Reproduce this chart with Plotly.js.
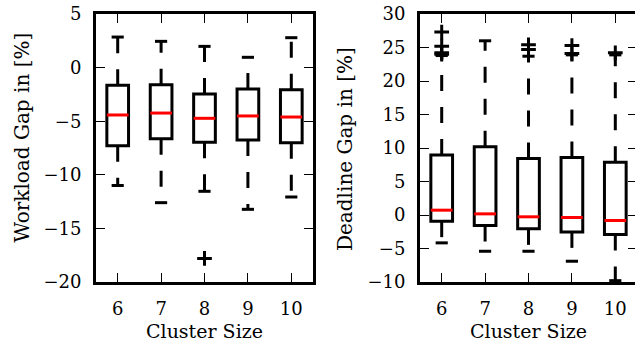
<!DOCTYPE html>
<html><head><meta charset="utf-8">
<script src="https://cdn.plot.ly/plotly-3.0.1.min.js"></script>
<style>html,body{margin:0;padding:0;overflow:hidden;background:#fff}</style>
</head><body><div id="chart"></div>
<script>
// ---- data ----
const clusters = [6, 7, 8, 9, 10];

// Workload gap [%]
const wlQ1   = [-7.28, -6.63, -6.97, -6.75, -7.00];
const wlMed  = [-4.42, -4.24, -4.73, -4.51, -4.61];
const wlQ3   = [-1.65, -1.59, -2.46, -2.00, -2.06];
const wlLow  = [-11.0, -12.6, -11.54, -13.22, -12.07];
const wlHigh = [2.85, 2.45, 1.98, 0.96, 2.79];
const wlOutX = [8];
const wlOutY = [-17.8];
const wlTicks = [-20, -15, -10, -5, 0, 5];

// Deadline gap [%]
const dlQ1   = [-0.92, -1.57, -2.07, -2.52, -2.92];
const dlMed  = [0.72, 0.17, -0.27, -0.37, -0.82];
const dlQ3   = [8.95, 10.2, 8.45, 8.60, 7.86];
const dlLow  = [-4.16, -5.41, -5.41, -6.90, -9.80];
const dlHigh = [23.8, 26.0, 23.7, 23.9, 23.9];
const dlOutX = [6, 6, 6, 6, 8, 8, 9, 9, 10];
const dlOutY = [27.3, 25.2, 24.2, 24.0, 25.4, 24.7, 25.3, 24.1, 24.2];
const dlTicks = [-10, -5, 0, 5, 10, 15, 20, 25, 30];

// ---- build ----
const FONT = "'DejaVu Serif', 'Liberation Serif', serif";
function fmt(v) { return v < 0 ? '\u2212' + Math.abs(v) : String(v); }

function boxTraces(xa, ya, q1, med, q3, low, high, outX, outY) {
  const hw = 0.25, cw = 0.14;
  const bx = [], by = [], mx = [], my = [], wx = [], wy = [], cx = [], cy = [];
  clusters.forEach((c, i) => {
    bx.push(c - hw, c + hw, c + hw, c - hw, c - hw, c + hw, null);
    by.push(q1[i], q1[i], q3[i], q3[i], q1[i], q1[i], null);
    mx.push(c - hw, c + hw, null); my.push(med[i], med[i], null);
    wx.push(c, c, null, c, c, null); wy.push(q3[i], high[i], null, q1[i], low[i], null);
    cx.push(c - cw, c + cw, null, c - cw, c + cw, null);
    cy.push(high[i], high[i], null, low[i], low[i], null);
  });
  const base = {xaxis: xa, yaxis: ya, type: 'scatter', hoverinfo: 'skip', connectgaps: false};
  return [
    Object.assign({}, base, {x: wx, y: wy, mode: 'lines', line: {color: '#000', width: 3, dash: '16px,16px'}}),
    Object.assign({}, base, {x: cx, y: cy, mode: 'lines', line: {color: '#000', width: 3}}),
    Object.assign({}, base, {x: bx, y: by, mode: 'lines', line: {color: '#000', width: 3}}),
    Object.assign({}, base, {x: mx, y: my, mode: 'lines', line: {color: '#ff0000', width: 3}}),
    Object.assign({}, base, {x: outX, y: outY, mode: 'markers',
      marker: {symbol: 'cross-thin-open', size: 10.5, color: '#000', line: {color: '#000', width: 3}}})
  ];
}

const data = [].concat(
  boxTraces('x', 'y', wlQ1, wlMed, wlQ3, wlLow, wlHigh, wlOutX, wlOutY),
  boxTraces('x2', 'y2', dlQ1, dlMed, dlQ3, dlLow, dlHigh, dlOutX, dlOutY)
);

const tickFont = {family: FONT, size: 18, color: '#000'};
const titleFont = {family: FONT, size: 19, color: '#000'};
const yTitleFont = {family: FONT, size: 20, color: '#000'};
const common = {
  ticks: 'inside', ticklen: 9, tickwidth: 1, tickcolor: '#000',
  showline: true, linewidth: 3, linecolor: '#000', mirror: 'ticks',
  showgrid: false, zeroline: false, tickfont: tickFont, ticklabelstandoff: 8,
  fixedrange: true
};

const layout = {
  width: 640, height: 345,
  margin: {l: 96, r: 3, t: 14, b: 63, pad: 0},
  paper_bgcolor: '#fff', plot_bgcolor: '#fff',
  font: {family: FONT, color: '#000'},
  showlegend: false, hovermode: false,
  xaxis: Object.assign({}, common, {domain: [0, 0.4011], range: [5.5, 10.5], anchor: 'y',
    tickmode: 'array', tickvals: clusters, ticktext: clusters.map(String),
    title: {text: 'Cluster Size', font: titleFont, standoff: 8}}),
  yaxis: Object.assign({}, common, {domain: [0, 1], range: [-20, 5], anchor: 'x',
    tickmode: 'array', tickvals: wlTicks, ticktext: wlTicks.map(fmt)}),
  xaxis2: Object.assign({}, common, {domain: [0.5989, 1], range: [5.5, 10.5], anchor: 'y2',
    tickmode: 'array', tickvals: clusters, ticktext: clusters.map(String),
    title: {text: 'Cluster Size', font: titleFont, standoff: 8}}),
  yaxis2: Object.assign({}, common, {domain: [0, 1], range: [-10, 30], anchor: 'x2',
    tickmode: 'array', tickvals: dlTicks, ticktext: dlTicks.map(fmt)}),
  annotations: [
    {text: 'Workload Gap in [%]', xref: 'paper', yref: 'paper', x: -0.1359, y: 0.541,
     textangle: -90, showarrow: false, xanchor: 'center', yanchor: 'middle', font: yTitleFont},
    {text: 'Deadline Gap in [%]', xref: 'paper', yref: 'paper', x: 0.4603, y: 0.4963,
     textangle: -90, showarrow: false, xanchor: 'center', yanchor: 'middle', font: yTitleFont}
  ]
};

Plotly.newPlot('chart', data, layout, {staticPlot: true, displayModeBar: false});
</script>
</body></html>
